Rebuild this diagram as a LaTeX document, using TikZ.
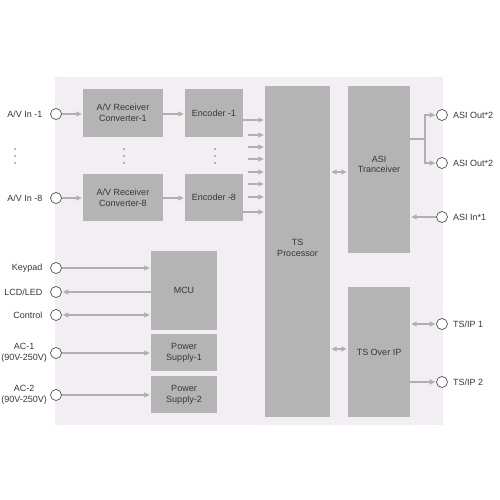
\documentclass[tikz,border=0pt]{standalone}
\usepackage{fontspec}
\setmainfont{Liberation Sans}
\usetikzlibrary{arrows.meta,calc}
\definecolor{bgpink}{RGB}{243,238,243}
\definecolor{boxgray}{RGB}{180,180,180}
\definecolor{arrgray}{RGB}{178,174,178}
\definecolor{txtgray}{RGB}{55,55,55}
\definecolor{ringgray}{RGB}{80,80,80}
\begin{document}
\begin{tikzpicture}[x=1pt,y=-1pt,
  every node/.style={font=\fontsize{9}{10.8}\selectfont, text=txtgray},
  blk/.style={fill=boxgray, draw=none, align=center, inner sep=0pt},
  port/.style={circle, draw=ringgray, fill=white, line width=0.7pt, minimum size=11pt, inner sep=0pt},
  tip/.tip={Triangle[length=5.5pt,width=5pt]},
  conn/.style={draw=arrgray, line width=1.2pt, -tip, shorten >=1pt},
  bconn/.style={draw=arrgray, line width=1.2pt, tip-tip, shorten >=1pt, shorten <=1pt},
  rconn/.style={draw=arrgray, line width=1.2pt, tip-, shorten <=1pt},
  lbl/.style={align=center, inner sep=1pt},
  dotm/.style={circle, fill=txtgray!70, inner sep=0pt, minimum size=1.6pt}
]
\useasboundingbox (0,0) rectangle (500,500);
\fill[bgpink] (55,77) rectangle (443,425);

% blocks
\node[blk, minimum width=80pt, minimum height=48pt] (conv1) at (123,113) {A/V Receiver\\Converter-1};
\node[blk, minimum width=80pt, minimum height=47pt] (conv8) at (123,197.5) {A/V Receiver\\Converter-8};
\node[blk, minimum width=58pt, minimum height=48pt] (enc1) at (214,113) {Encoder -1};
\node[blk, minimum width=58pt, minimum height=47pt] (enc8) at (214,197.5) {Encoder -8};
\node[blk, minimum width=65pt, minimum height=331pt, label={[lbl,yshift=3.5pt]center:TS\\Processor}] (tsp) at (297.5,251.5) {};
\node[blk, minimum width=62pt, minimum height=167pt, label={[lbl,yshift=5pt]center:ASI\\Tranceiver}] (asi) at (379,169.5) {};
\node[blk, minimum width=62pt, minimum height=130pt] (tsoip) at (379,352) {TS Over IP};
\node[blk, minimum width=66pt, minimum height=79pt] (mcu) at (184,290.5) {MCU};
\node[blk, minimum width=66pt, minimum height=37pt] (ps1) at (184,352.5) {Power\\Supply-1};
\node[blk, minimum width=66pt, minimum height=37pt] (ps2) at (184,394.5) {Power\\Supply-2};

% left ports
\node[port, label={[lbl,label distance=6.5pt]left:A/V In -1}] (in1) at (56,114) {};
\node[port, label={[lbl,label distance=6.5pt]left:A/V In -8}] (in8) at (56,198) {};
\node[port, label={[lbl,label distance=6.5pt]left:Keypad}] (kp) at (56,268) {};
\node[port, label={[lbl,label distance=6.5pt]left:LCD/LED}] (lcd) at (56,292) {};
\node[port, label={[lbl,label distance=6.5pt]left:Control}] (ctl) at (56,315) {};
\node[port, label={[lbl,label distance=2pt]left:AC-1\\(90V-250V)}] (ac1) at (56,353) {};
\node[port, label={[lbl,label distance=2pt]left:AC-2\\(90V-250V)}] (ac2) at (56,395) {};

% right ports
\node[port, label={[lbl,label distance=4pt]right:ASI Out*2}] (out1) at (442,115) {};
\node[port, label={[lbl,label distance=4pt]right:ASI Out*2}] (out2) at (442,163) {};
\node[port, label={[lbl,label distance=4pt]right:ASI In*1}] (ain) at (442,217) {};
\node[port, label={[lbl,label distance=4pt]right:TS/IP 1}] (ip1) at (442,324) {};
\node[port, label={[lbl,label distance=4pt]right:TS/IP 2}] (ip2) at (442,382) {};

% dots
\foreach \xx in {15,124,215}{
  \foreach \yy in {149,156,163}{
    \node[dotm] at (\xx,\yy) {};
  }
}

% connectors left
\draw[conn] (in1) -- (in1 -| conv1.west);
\draw[conn] (in8) -- (in8 -| conv8.west);
\draw[conn] (conv1.east |- in1) -- (enc1.west |- in1);
\draw[conn] (conv8.east |- in8) -- (enc8.west |- in8);
\draw[conn] (enc1.east |- 0,120) -- (tsp.west |- 0,120);
\draw[conn] (enc8.east |- 0,212) -- (tsp.west |- 0,212);
\foreach \yy [count=\i] in {135,147,159,172,184,197}{
  \coordinate (s\i) at (248,\yy);
  \draw[conn] (s\i) -- (tsp.west |- s\i);
}
\draw[conn] (kp) -- (kp -| mcu.west);
\draw[rconn] (lcd) -- (lcd -| mcu.west);
\draw[bconn] (ctl) -- (ctl -| mcu.west);
\draw[conn] (ac1) -- (ac1 -| ps1.west);
\draw[conn] (ac2) -- (ac2 -| ps2.west);

% middle
\draw[bconn] (tsp.east |- 0,172) -- (asi.west |- 0,172);
\draw[bconn] (tsp.east |- 0,349) -- (tsoip.west |- 0,349);

% right
\coordinate (br) at (425,139);
\draw[draw=arrgray, line width=1.2pt] (asi.east |- br) -- (br);
\draw[conn] (br) |- (out1);
\draw[conn] (br) |- (out2);
\draw[conn] (ain) -- (ain -| asi.east);
\draw[bconn] (tsoip.east |- ip1) -- (ip1);
\draw[conn] (tsoip.east |- ip2) -- (ip2);
\end{tikzpicture}
\end{document}
